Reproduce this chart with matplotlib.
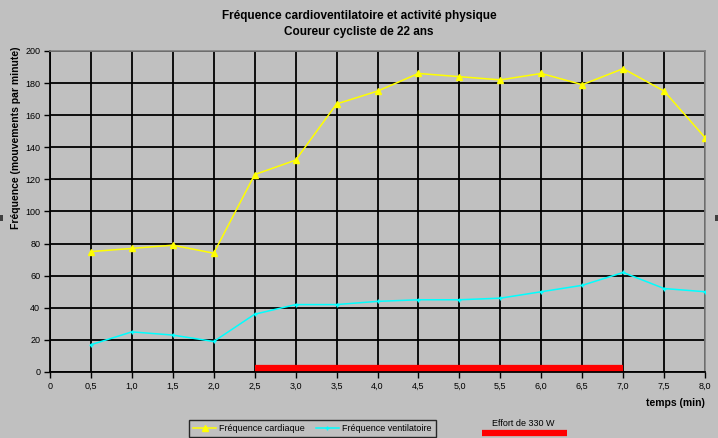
import matplotlib
matplotlib.use("Agg")
import matplotlib.pyplot as plt
from matplotlib.lines import Line2D
from matplotlib.patches import Rectangle

plt.rcParams['font.family'] = ['Liberation Sans', 'DejaVu Sans']

temps = [0.5, 1.0, 1.5, 2.0, 2.5, 3.0, 3.5, 4.0, 4.5, 5.0, 5.5, 6.0, 6.5, 7.0, 7.5, 8.0]
freq_cardiaque = [75, 77, 79, 74, 123, 132, 167, 175, 186, 184, 182, 186, 179, 189, 175, 146]
freq_ventilatoire = [17, 25, 23, 19, 36, 42, 42, 44, 45, 45, 46, 50, 54, 62, 52, 50]
effort_debut, effort_fin = 2.5, 7.0
effort_label = "Effort de 330 W"
xticks = [i * 0.5 for i in range(17)]
xticklabels = ["0"] + [f"{v:.1f}".replace(".", ",") for v in xticks[1:]]
yticks = list(range(0, 201, 20))

bg = '#C0C0C0'
fig = plt.figure(figsize=(7.18, 4.38), dpi=100, facecolor=bg)
ax = fig.add_axes([0.0696, 0.1507, 0.9124, 0.7329], facecolor=bg)

ax.set_xlim(0, 8)
ax.set_ylim(0, 200)
ax.set_xticks(xticks)
ax.set_xticklabels(xticklabels, fontsize=6.5)
ax.set_yticks(yticks)
ax.set_yticklabels([str(v) for v in yticks], fontsize=6.5)
ax.tick_params(direction='out', length=4, width=1, colors='black', pad=3)
ax.grid(True, color='black', linewidth=1.3)
ax.set_axisbelow(True)
for s in ['left', 'bottom']:
    ax.spines[s].set_color('black')
    ax.spines[s].set_linewidth(1.3)
for s in ['top', 'right']:
    ax.spines[s].set_color('#808080')
    ax.spines[s].set_linewidth(1.2)

ax.plot(temps, freq_cardiaque, color='#FFFF00', lw=1.1, marker='^', ms=4.5,
        mec='#FFFF00', mfc='#FFFF00', zorder=3)
ax.plot(temps, freq_ventilatoire, color='#00FFFF', lw=1.1, marker='+', ms=3.5,
        mew=1, zorder=3)
ax.plot([effort_debut, effort_fin], [2.7, 2.7], color='#FF0000', lw=4.5,
        solid_capstyle='butt', zorder=4)

fig.text(16 / 718, 1 - 138 / 438, "Fréquence (mouvements par minute)", fontsize=7.5,
         fontweight='bold', rotation=90, ha='center', va='center')
fig.text(705 / 718, 1 - 403 / 438, "temps (min)", fontsize=7.5, fontweight='bold',
         ha='right', va='center')

fig.text(0.5, 0.963, "Fréquence cardioventilatoire et activité physique",
         fontsize=8.5, fontweight='bold', ha='center', va='center')
fig.text(0.5, 0.927, "Coureur cycliste de 22 ans",
         fontsize=8.5, fontweight='bold', ha='center', va='center')

handles = [
    Line2D([], [], color='#FFFF00', lw=1.1, marker='^', ms=4.5, mec='#FFFF00'),
    Line2D([], [], color='#00FFFF', lw=1.1, marker='+', ms=3.5),
]
leg = fig.legend(handles, ["Fréquence cardiaque", "Fréquence ventilatoire"],
                 loc='center', bbox_to_anchor=(312.5 / 718, 1 - 428.5 / 438), ncol=2,
                 fontsize=6.5, frameon=True, fancybox=False, facecolor=bg,
                 edgecolor='black', handlelength=2.5, handletextpad=0.4,
                 columnspacing=1.2, borderpad=0.45, borderaxespad=0)
leg.get_frame().set_linewidth(1.0)

fig.text(523 / 718, 1 - 424 / 438, effort_label, fontsize=6.5, ha='center', va='center')
fig.add_artist(Line2D([482 / 718, 567 / 718], [1 - 433 / 438, 1 - 433 / 438],
                      color='#FF0000', lw=4.5, solid_capstyle='butt'))

# small edge handles visible in the reference
for x0 in (0, 715):
    fig.add_artist(Rectangle((x0 / 718, 1 - 221 / 438), 3 / 718, 6 / 438,
                             transform=fig.transFigure, color='#404040', lw=0))

fig.savefig("out.png", dpi=100, facecolor=bg)
